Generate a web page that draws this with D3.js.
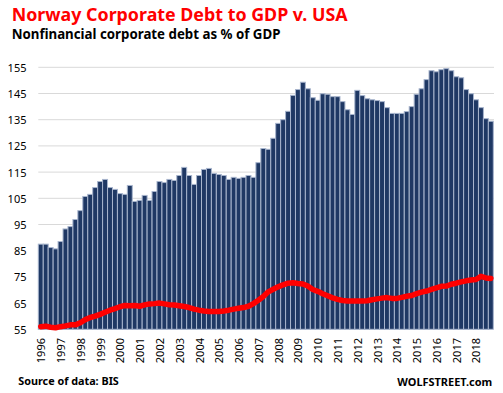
<!DOCTYPE html>
<html>
<head>
<meta charset="utf-8">
<script src="https://cdn.jsdelivr.net/npm/d3@7"></script>
<style>
  html, body { margin: 0; padding: 0; background: #fff; }
  svg { display: block; }
</style>
</head>
<body>
<svg id="chart" width="503" height="393"></svg>
<script>
// ---- Data ----
const yearLabels = ["1996","1997","1998","1999","2000","2001","2002","2003","2004","2005","2006","2007","2008","2009","2010","2011","2012","2013","2014","2015","2016","2017","2018"];
const quarterNames = ["Q1","Q2","Q3","Q4"];
const norway = [
  87.5, 87.5, 86.2, 85.7,
  88.5, 93.3, 94.2, 96.9,
  100.3, 105.7, 106.5, 109.1,
  111.4, 112.2, 109.1, 108.4,
  106.8, 106.5, 109.9, 103.8,
  104.2, 106.1, 104.2, 107.6,
  111.4, 111.0, 112.2, 111.8,
  113.7, 116.8, 113.7, 110.3,
  113.7, 116.0, 116.4, 114.5,
  114.1, 113.7, 112.2, 113.0,
  112.6, 113.0, 113.7, 113.0,
  118.6, 124.0, 123.7, 127.9,
  133.6, 135.0, 138.2, 144.3,
  146.5, 149.3, 146.8, 143.4,
  142.4, 144.9, 144.7, 143.8,
  143.8, 141.9, 138.8, 137.0,
  146.2, 144.2, 143.0, 142.6,
  142.3, 141.9, 139.6, 137.4,
  137.4, 137.4, 138.1, 140.0,
  144.7, 146.8, 150.3, 153.7,
  153.3, 154.1, 154.5, 153.7,
  151.4, 151.0, 146.5, 144.9,
  142.6, 139.6, 135.4, 134.4
];
const usa = [
  56.0, 56.2, 55.8, 55.6,
  56.0, 56.3, 56.7, 56.7,
  57.5, 58.7, 59.5, 60.0,
  60.7, 61.5, 62.3, 62.9,
  63.6, 64.1, 64.0, 64.1,
  63.8, 64.3, 64.7, 64.8,
  65.0, 64.7, 64.4, 64.3,
  64.0, 63.7, 63.3, 62.7,
  62.3, 62.0, 61.8, 61.8,
  61.8, 62.0, 62.3, 62.7,
  63.0, 63.3, 63.8, 64.8,
  66.1, 67.5, 69.3, 70.3,
  71.2, 72.0, 72.6, 72.8,
  72.5, 72.3, 71.5, 70.2,
  69.5, 68.6, 67.8, 67.0,
  66.4, 66.0, 65.8, 65.8,
  65.8, 65.8, 65.9, 66.3,
  66.6, 66.9, 67.1, 66.8,
  66.8, 67.2, 67.6, 67.9,
  68.6, 69.2, 69.6, 70.2,
  70.8, 71.4, 71.5, 72.2,
  72.6, 73.1, 73.5, 73.8,
  74.0, 75.2, 74.6, 74.4
];
const yTicks = [55, 65, 75, 85, 95, 105, 115, 125, 135, 145, 155];
const titleText = "Norway Corporate Debt to GDP v. USA";
const subtitleText = "Nonfinancial corporate debt as % of GDP";
const sourceText = "Source of data: BIS";
const brandText = "WOLFSTREET.com";

// ---- Build categories ----
const categories = [];
yearLabels.forEach(yr => quarterNames.forEach(q => categories.push(yr + q)));
const rows = categories.map((c, i) => ({ cat: c, norway: norway[i], usa: usa[i] }));

// ---- Chart ----
const svg = d3.select("#chart");
const x = d3.scaleBand().domain(categories).range([38.3, 493.3]).paddingInner(0).paddingOuter(0);
const y = d3.scaleLinear().domain([55, 155]).range([329.3, 67.3]);
const bw = x.bandwidth();

// gridlines
svg.append("g").selectAll("line").data(yTicks.slice(1)).join("line")
  .attr("x1", 38.3).attr("x2", 494)
  .attr("y1", d => y(d)).attr("y2", d => y(d))
  .attr("stroke", "#d9d9d9").attr("stroke-width", 1);

// y labels
svg.append("g").selectAll("text").data(yTicks).join("text")
  .attr("x", 26.5).attr("y", d => y(d))
  .attr("text-anchor", "end").attr("dominant-baseline", "central")
  .attr("font-family", "'Noto Sans', sans-serif").attr("font-size", 11)
  .attr("fill", "#000").text(d => d);

// bars
svg.append("g").selectAll("rect").data(rows).join("rect")
  .attr("x", d => x(d.cat)).attr("width", bw)
  .attr("y", d => y(d.norway)).attr("height", d => y(55) - y(d.norway))
  .attr("fill", "#1f3864").attr("stroke", "#a8b5cd").attr("stroke-width", 1);

// red line
const line = d3.line().x(d => x(d.cat) + bw / 2).y(d => y(d.usa));
svg.append("path").datum(rows).attr("d", line)
  .attr("fill", "none").attr("stroke", "#ff0000").attr("stroke-width", 5.5)
  .attr("stroke-linejoin", "round").attr("stroke-linecap", "round");

// x labels (rotated)
svg.append("g").selectAll("text").data(yearLabels).join("text")
  .attr("transform", d => `translate(${x(d + "Q1") + bw / 2 + 4.5},338) rotate(-90)`)
  .attr("text-anchor", "end")
  .attr("font-family", "'Noto Sans', sans-serif").attr("font-size", 11)
  .attr("fill", "#000").text(d => d);

// text helpers: fit to measured widths
function fitText(sel, targetWidth) {
  const node = sel.node();
  const w = node.getComputedTextLength();
  const fs = parseFloat(sel.attr("font-size"));
  sel.attr("font-size", (fs * targetWidth / w).toFixed(2));
}

const title = svg.append("text").attr("x", 11.7).attr("y", 20.7)
  .attr("font-family", "'Noto Sans', sans-serif").attr("font-size", 20).attr("font-weight", "bold")
  .attr("fill", "#ff0000").text(titleText);
fitText(title, 336);

const sub = svg.append("text").attr("x", 11.7).attr("y", 39.3)
  .attr("font-family", "'Noto Sans', sans-serif").attr("font-size", 13).attr("font-weight", "bold")
  .attr("fill", "#000").text(subtitleText);
fitText(sub, 269);

const src = svg.append("text").attr("x", 18.3).attr("y", 385)
  .attr("font-family", "'Noto Sans', sans-serif").attr("font-size", 11).attr("font-weight", "bold")
  .attr("fill", "#000").text(sourceText);
fitText(src, 100.5);

const brand = svg.append("text").attr("x", 397.3).attr("y", 386)
  .attr("font-family", "'Noto Sans', sans-serif").attr("font-size", 12).attr("font-weight", "bold")
  .attr("fill", "#000").text(brandText);
fitText(brand, 95);
</script>
</body>
</html>
